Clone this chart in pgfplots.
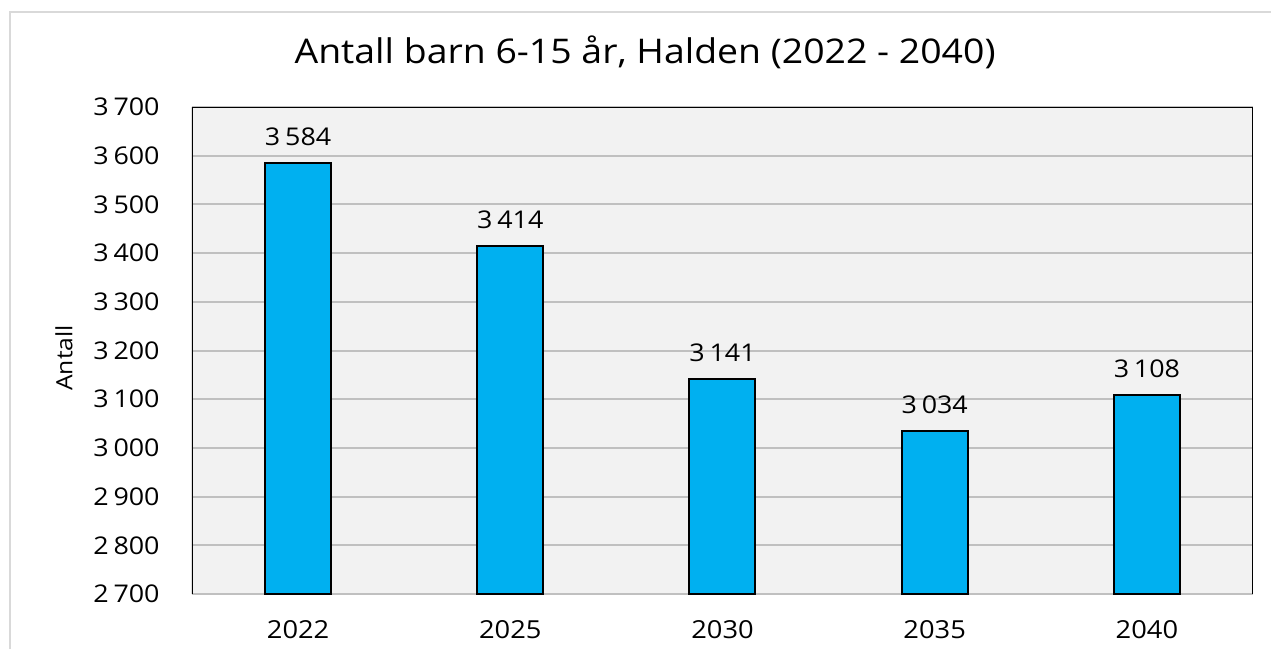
\documentclass[border=0pt]{standalone}
\usepackage{fontspec}
\setmainfont{Open Sans}[FakeStretch=1.1]
\usepackage{pgfplots}
\pgfplotsset{compat=1.18}
\definecolor{barblue}{HTML}{00B0F0}
\definecolor{bgray}{HTML}{F2F2F2}
\definecolor{gridgray}{HTML}{C0C0C0}
\definecolor{framegray}{HTML}{D9D9D9}
\begin{document}
\begin{tikzpicture}
\path[use as bounding box] (0,0) rectangle (635.5pt,-324.5pt);
\draw[framegray, line width=1pt] (5pt,-324.5pt) -- (5pt,-6pt) -- (635.5pt,-6pt);
\begin{axis}[
  at={(96pt,-297pt)}, anchor=south west,
  scale only axis, width=530.5pt, height=243.5pt,
  xmin=-0.5, xmax=4.5, ymin=2700, ymax=3700,
  axis line style={draw=none},
  axis background/.style={fill=bgray},
  ymajorgrids, grid style={gridgray, line width=1pt},
  major tick length=0pt,
  xtick={0,1,2,3,4},
  xticklabels={2022,2025,2030,2035,2040},
  ytick={2700,2800,...,3700},
  /pgf/number format/1000 sep={\hspace{0.2em}},
  /pgf/number format/assume math mode=true,
  yticklabel style={font=\fontsize{12.2}{14}\selectfont, anchor=east, inner sep=0pt, xshift=-16pt},
  xticklabel style={font=\fontsize{12.4}{14}\selectfont, anchor=north, inner sep=0pt, yshift=-13.3pt},
  title={Antall barn 6-15 år, Halden (2022 - 2040)},
  title style={at={(axis description cs:0.427,1.087)}, anchor=center, font=\fontsize{17}{20}\selectfont},
  ylabel={Antall},
  ylabel style={at={(axis description cs:-0.1206,0.485)}, anchor=center, font=\fontsize{11.2}{13}\selectfont},
  ybar, bar width=33pt,
  nodes near coords,
  nodes near coords style={font=\fontsize{12.2}{14}\selectfont, anchor=south, inner sep=0pt, yshift=8.3pt, black},
]
\addplot[fill=barblue, draw=black, line width=1pt] coordinates {(0,3584) (1,3414) (2,3141) (3,3034) (4,3108)};
\draw[black, line width=1pt] (rel axis cs:0,0) -- (rel axis cs:0,1) -- (rel axis cs:1,1) -- (rel axis cs:1,0);
\end{axis}
\end{tikzpicture}
\end{document}
